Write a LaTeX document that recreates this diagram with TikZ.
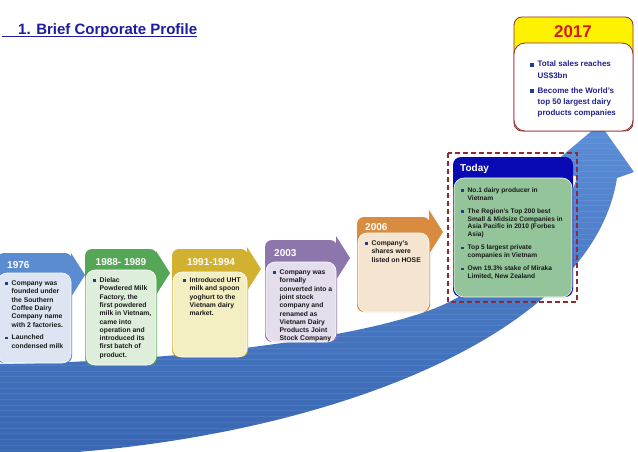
\documentclass[tikz,border=0pt]{standalone}
\usepackage{fontspec}
\setmainfont{Liberation Sans}
\usetikzlibrary{calc}
\definecolor{bul}{HTML}{1F3F8C}
\definecolor{ttl}{HTML}{1C1C9C}
\definecolor{arrtop}{HTML}{5C8DD7}
\definecolor{arrbot}{HTML}{3866B2}
\definecolor{c76}{HTML}{5B8BD0}\definecolor{l76}{HTML}{DCE5F1}
\definecolor{c88}{HTML}{55A757}\definecolor{l88}{HTML}{DDEFDA}
\definecolor{c91}{HTML}{D2B130}\definecolor{l91}{HTML}{F4EFC2}
\definecolor{c03}{HTML}{8C76AC}\definecolor{l03}{HTML}{E4DEEC}
\definecolor{c06}{HTML}{D98B3F}\definecolor{l06}{HTML}{F5E4CF}
\definecolor{ctd}{HTML}{0A0AB4}\definecolor{ltd}{HTML}{93C49A}
\definecolor{dred}{HTML}{8E2B35}
\definecolor{yel}{HTML}{FFF200}
\definecolor{red17}{HTML}{D01F1F}
\definecolor{navy}{HTML}{22228C}
\newcommand\bsq{\textcolor{bul}{\rule[0.3pt]{2.8pt}{2.8pt}}}
\newcommand\bi{\makebox[6.5pt][l]{\bsq}}
\newcommand\bj{\makebox[7.5pt][l]{\textcolor{bul}{\rule[0.3pt]{3.8pt}{3.8pt}}}}
\newcommand\arrowoutline{(0,364) .. controls (200,361) and (390,334) .. (453,300)
  .. controls (515,268) and (565,222) .. (577,177) -- (550,166) -- (600,124)
  -- (634,172) -- (617,178) .. controls (590,350) and (280,450) .. (0,456) -- cycle}
% #1 x1, #2 top, #3 x2, #4 inner top, #5 bottom, #6 tip y, #7 colour, #8 light colour
\newcommand\yrbox[8]{%
  \fill[#7] (#3-1,#6-22) -- (#3+13,#6) -- (#3-1,#6+22) -- cycle;
  \fill[#7, rounded corners=7pt] (#1,#2) rectangle (#3,#5);
  \filldraw[fill=#8, draw=white, line width=0.6pt, rounded corners=9pt] (#1+1,#4) rectangle (#3-1,#5);
}
\tikzset{
  body/.style={inner sep=0pt, anchor=base west, text=black!90,
    font=\bfseries\fontsize{6.8}{8.3}\selectfont},
  hdr/.style={inner sep=0pt, anchor=base west, text=white,
    font=\bfseries\fontsize{10}{12}\selectfont},
}
\begin{document}
\begin{tikzpicture}[x=1pt,y=-1pt]
\useasboundingbox (0,0) rectangle (638,452);
\fill[white] (0,0) rectangle (638,452);

% big rising arrow
\begin{scope}
\clip (0,0) rectangle (638,452);
\shade[top color=arrtop, bottom color=arrbot] \arrowoutline;
\clip \arrowoutline;
\foreach \yy in {120,125.7,...,460} \draw[white, opacity=0.08, line width=0.6pt] (0,\yy) -- (640,\yy);
\end{scope}

% title
\node[inner sep=0pt, anchor=base west, text=ttl, font=\bfseries\fontsize{15}{18}\selectfont] (title) at (18,35) {1. Brief Corporate Profile};
\draw[ttl, line width=1pt] ([xshift=-16pt,yshift=-1.8pt]title.base west) -- ([yshift=-1.8pt]title.base east);

% year boxes
\yrbox{-3}{253}{72}{273}{363}{275}{c76}{l76}
\yrbox{85}{249}{157}{270}{365}{273}{c88}{l88}
\yrbox{172}{249}{248}{272}{357}{269}{c91}{l91}
\yrbox{265}{240}{337}{262}{342}{258}{c03}{l03}
\yrbox{357}{217}{430}{233}{312}{232}{c06}{l06}

\node[hdr] (h1976) at (7,268.6) {1976};
\node[hdr, anchor=base] (h1988) at (121,265.6) {1988- 1989};
\node[hdr, anchor=base] (h1991) at (211,265.6) {1991-1994};
\node[hdr] (h2003) at (274,256.6) {2003};
\node[hdr] (h2006) at (365,230.6) {2006};

\node[body] (t1976) at (5,285.5) {\begin{tabular}[t]{@{}l@{}l@{}}
\bi & Company was\\
 & founded under\\
 & the Southern\\
 & Coffee Dairy\\
 & Company name\\
 & with 2 factories.\\[4.4pt]
\bi & Launched\\
 & condensed milk
\end{tabular}};

\node[body] (t1988) at (93,282.5) {\begin{tabular}[t]{@{}l@{}l@{}}
\bi & Dielac\\
 & Powdered Milk\\
 & Factory, the\\
 & first powdered\\
 & milk in Vietnam,\\
 & came into\\
 & operation and\\
 & introduced its\\
 & first batch of\\
 & product.
\end{tabular}};

\node[body] (t1991) at (183,282.5) {\begin{tabular}[t]{@{}l@{}l@{}}
\bi & Introduced UHT\\
 & milk and spoon\\
 & yoghurt to the\\
 & Vietnam dairy\\
 & market.
\end{tabular}};

\node[body] (t2003) at (273,274.5) {\begin{tabular}[t]{@{}l@{}l@{}}
\bi & Company was\\
 & formally\\
 & converted into a\\
 & joint stock\\
 & company and\\
 & renamed as\\
 & Vietnam Dairy\\
 & Products Joint\\
 & Stock Company
\end{tabular}};

\node[body] (t2006) at (365,245.5) {\begin{tabular}[t]{@{}l@{}l@{}}
\bi & Company's\\
 & shares were\\
 & listed on HOSE
\end{tabular}};

% Today
\fill[ctd, rounded corners=8pt] (453,157) rectangle (573,297);
\filldraw[fill=ltd, draw=white, line width=0.6pt, rounded corners=10pt] (454,178) rectangle (572,297);
\node[hdr] (htoday) at (460,171.6) {Today};
\node[body, font=\bfseries\fontsize{6.6}{7.6}\selectfont] (ttoday) at (461,192.5) {\begin{tabular}[t]{@{}l@{}l@{}}
\bi & No.1 dairy producer in\\
 & Vietnam\\[5.8pt]
\bi & The Region's Top 200 best\\
 & Small \& Midsize Companies in\\
 & Asia Pacific in 2010 (Forbes\\
 & Asia)\\[5.8pt]
\bi & Top 5 largest private\\
 & companies in Vietnam\\[5.8pt]
\bi & Own 19.3\% stake of Miraka\\
 & Limited, New Zealand
\end{tabular}};
\draw[dred, line width=1.2pt, dash pattern=on 5pt off 3pt] (448,153) rectangle (577,302);

% 2017
\filldraw[fill=yel, draw=dred, line width=0.8pt, rounded corners=8pt] (514,17) rectangle (633,131);
\filldraw[fill=white, draw=dred, line width=0.8pt, rounded corners=11pt] (514,43) rectangle (633,131);
\node[inner sep=0pt, anchor=base, text=red17, font=\bfseries\fontsize{17}{20}\selectfont] (h2017) at (573,38) {2017};
\node[body, text=navy, font=\bfseries\fontsize{8}{11.2}\selectfont] (t2017) at (530,67) {\begin{tabular}[t]{@{}l@{}l@{}}
\bj & Total sales reaches\\
 & US\$3bn\\[4pt]
\bj & Become the World's\\
 & top 50 largest dairy\\
 & products companies
\end{tabular}};
\end{tikzpicture}
\end{document}
